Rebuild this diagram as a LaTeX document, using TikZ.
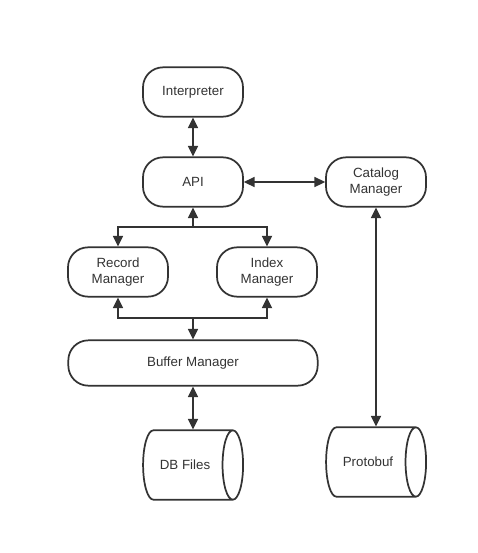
\documentclass[tikz,border=0pt]{standalone}
\usepackage{fontspec}
\setmainfont{Liberation Sans}
\usepackage{tikz}
\usetikzlibrary{arrows.meta,shapes.geometric}
\definecolor{linegray}{RGB}{51,51,51}
\tikzset{
  % module box
  module/.style={
    draw=linegray,
    line width=1.3pt,
    rounded corners=15pt,
    minimum width=75pt,
    minimum height=37pt,
    align=center,
    text=linegray,
    font=\fontsize{10}{12.5}\selectfont
  },
  % storage
  store/.style={
    draw=linegray,
    line width=1.3pt,
    shape=cylinder,
    shape aspect=1.1,
    minimum width=52pt,
    minimum height=75pt,
    text=linegray,
    font=\fontsize{10}{12.5}\selectfont
  },
  % arrows
  arr/.style={-{Triangle[length=8pt,width=7.5pt]}, line width=1.3pt, linegray},
  darr/.style={{Triangle[length=8pt,width=7.5pt]}-{Triangle[length=8pt,width=7.5pt]}, line width=1.3pt, linegray},
}
\begin{document}
\begin{tikzpicture}[x=0.75pt,y=-0.75pt]
  \useasboundingbox (0,0) rectangle (478,553);

  % modules
  \node[module] (interp) at (193,92) {Interpreter};
  \node[module] (api) at (193,182) {API};
  \node[module] (catalog) at (376,182) {Catalog\\Manager};
  \node[module] (record) at (118,272) {Record\\Manager};
  \node[module] (index) at (267,272) {Index\\Manager};
  \node[module, minimum width=187pt, minimum height=34pt] (buffer) at (193,363) {Buffer Manager};

  % storage
  \node[store] (dbfiles) at (185,465) {DB Files};
  \node[store] (protobuf) at (368,462) {Protobuf};

  % junctions
  \coordinate (upper) at (193,227);
  \coordinate (lower) at (193,318);

  % connections
  \draw[darr] (interp) -- (api);
  \draw[darr] (api) -- (catalog);
  \draw[arr] (upper) -- (api);
  \draw[arr] (upper) -| (record);
  \draw[arr] (upper) -| (index);
  \draw[arr] (lower) -| (record);
  \draw[arr] (lower) -| (index);
  \draw[arr] (lower) -- (buffer);
  \draw[darr] (buffer.south) -- (buffer.south |- dbfiles.north);
  \draw[darr] (catalog.south) -- (catalog.south |- protobuf.north);
\end{tikzpicture}
\end{document}
